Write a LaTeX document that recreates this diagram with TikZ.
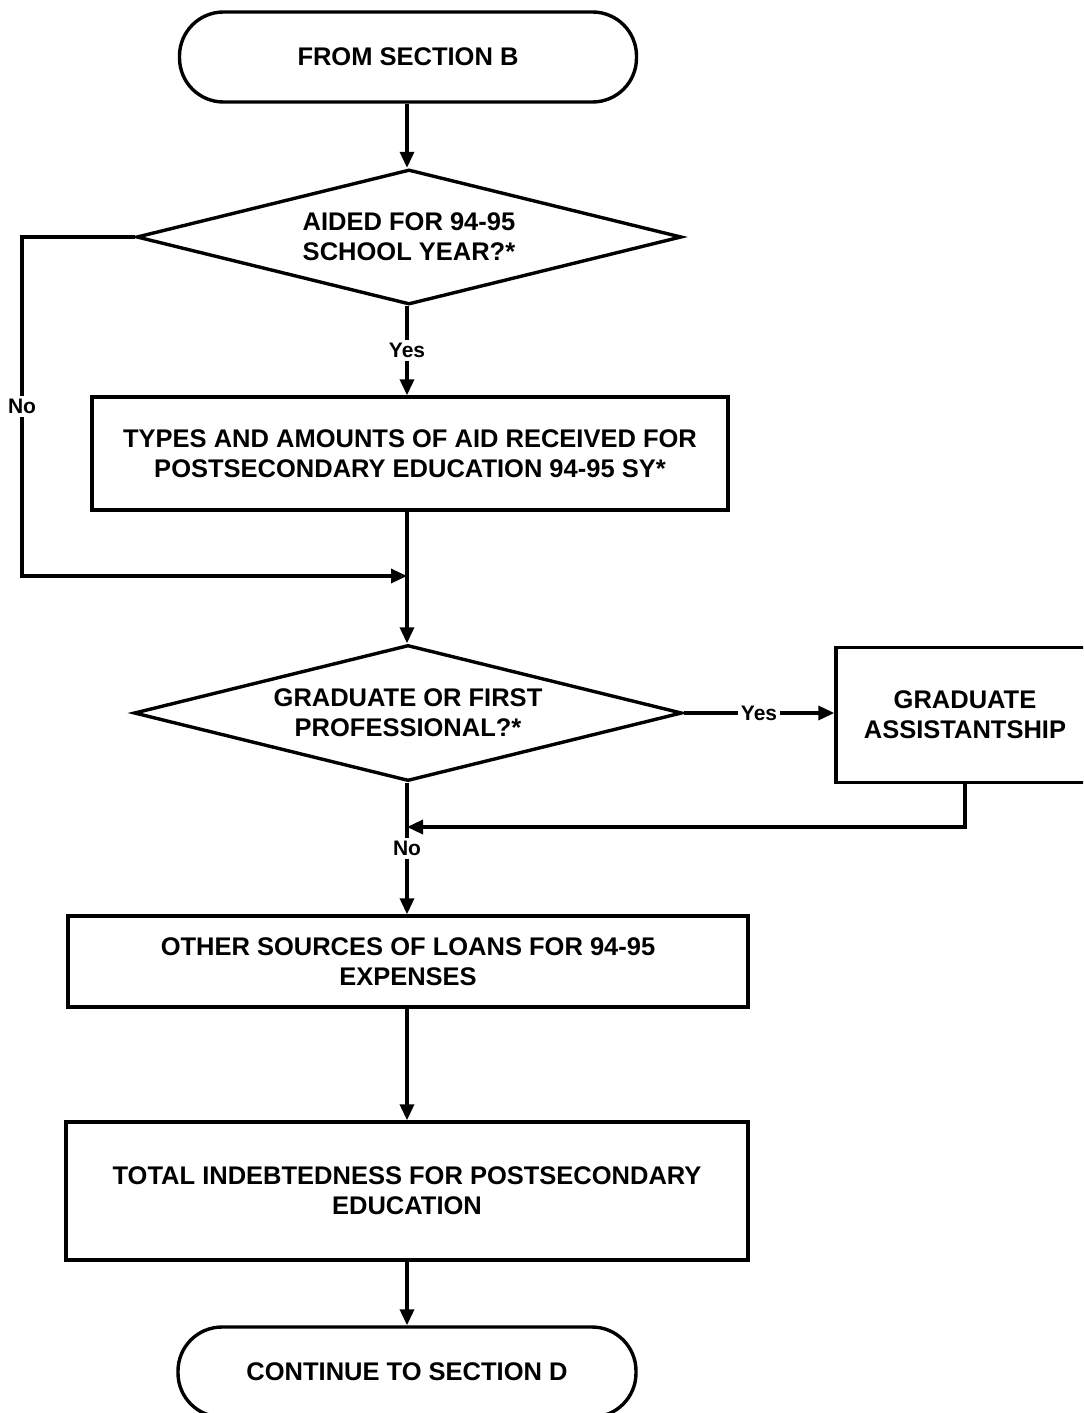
\documentclass[tikz,border=0pt]{standalone}
\usepackage{fontspec}
\setmainfont{Liberation Sans}
\usetikzlibrary{shapes.geometric,arrows.meta}
\begin{document}
\begin{tikzpicture}[x=0.5pt,y=-0.5pt,
  line width=1.7pt,
  every node/.style={font=\bfseries\fontsize{12.75}{15}\selectfont, align=center},
  terminal/.style={draw, rectangle, rounded corners=22pt, inner sep=0},
  process/.style={draw, rectangle, inner sep=0},
  decision/.style={draw, diamond, inner sep=0},
  lbl/.style={font=\bfseries\fontsize{10.5}{11}\selectfont, fill=white, inner sep=1.5pt},
  flow/.style={-{Triangle[length=8pt,width=7pt]}}
]
\useasboundingbox (0,0) rectangle (1083,1413);
\clip (0,0) rectangle (1083,1413);

% shapes
\node[terminal, minimum width=228.5pt, minimum height=45pt] (start) at (408,57) {FROM SECTION B};

\node[decision, minimum width=272.5pt, minimum height=67.5pt] (d1) at (409,237) {};
\node (d1txt) at (d1) {AIDED FOR 94-95\\SCHOOL YEAR?*};

\node[process, minimum width=318pt, minimum height=56.5pt] (b1) at (410,453.5)
  {TYPES AND AMOUNTS OF AID RECEIVED FOR\\POSTSECONDARY EDUCATION 94-95 SY*};

\node[decision, minimum width=274pt, minimum height=68pt] (d2) at (408,713) {};
\node (d2txt) at (d2) {GRADUATE OR FIRST\\PROFESSIONAL?*};

\node[process, minimum width=129pt, minimum height=67.5pt] (b2) at (965,715)
  {GRADUATE\\ASSISTANTSHIP};

\node[process, minimum width=340pt, minimum height=45.5pt] (b3) at (408,961.5)
  {OTHER SOURCES OF LOANS FOR 94-95\\EXPENSES};

\node[process, minimum width=341pt, minimum height=69pt] (b4) at (407,1191)
  {TOTAL INDEBTEDNESS FOR POSTSECONDARY\\EDUCATION};

\node[terminal, minimum width=229pt, minimum height=45pt] (end) at (407,1372) {CONTINUE TO SECTION D};

% junction and bend points
\coordinate (m1) at (407,576);
\coordinate (m2) at (407,827);
\coordinate (nb1) at (22,237);
\coordinate (nb2) at (22,576);

% connectors
\draw[flow] (start.south -| m1) -- (d1.north -| m1);
\draw[flow] (d1.south -| m1) -- node[lbl]{Yes} (b1.north -| m1);
\draw[flow] (d1.west) -- (nb1) -- node[lbl]{No} (nb2) -- (m1);
\draw[flow] (b1.south -| m1) -- (d2.north -| m1);
\draw[flow] (d2.east) -- node[lbl]{Yes} (d2.east -| b2.west);
\draw[flow] (b2.south) |- (m2);
\draw[flow] (d2.south -| m1) -- node[lbl]{No} (b3.north -| m1);
\draw[flow] (b3.south -| m1) -- (b4.north -| m1);
\draw[flow] (b4.south) -- (end.north);
\end{tikzpicture}
\end{document}
